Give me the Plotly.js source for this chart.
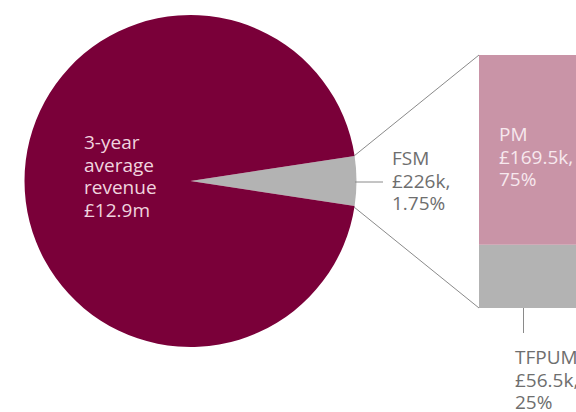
<!DOCTYPE html>
<html>
<head>
<meta charset="utf-8">
<script src="https://cdn.plot.ly/plotly-3.0.1.min.js"></script>
<style>html,body{margin:0;padding:0;background:#fff}#chart{width:576px;height:412px}</style>
</head>
<body>
<div id="chart"></div>
<script>
// Pie: visible shares as drawn
var pieLabels = ["FSM", "Other revenue"];
var pieValues = [4.8, 95.2];
// Breakdown bar of FSM (£k)
var barCategory = ["FSM"];
var pmValues = [169.5];
var tfpumValues = [56.5];
// Label texts
var pieText = ["3-year", "average", "revenue", "£12.9m"];
var fsmText = ["FSM", "£226k,", "1.75%"];
var pmText = ["PM", "£169.5k,", "75%"];
var tfText = ["TFPUM", "£56.5k,", "25%"];

var W = 576, H = 412;
function px(x){return x / W;}
function py(y){return 1 - y / H;}

var greyAngle = pieValues[0] / (pieValues[0] + pieValues[1]) * 360;

var pie = {
  type: "pie",
  labels: pieLabels,
  values: pieValues,
  sort: false,
  direction: "clockwise",
  rotation: 90 - greyAngle / 2,
  marker: {colors: ["#b3b3b3", "#7a0039"], line: {width: 0}},
  textinfo: "none",
  hoverinfo: "none",
  showlegend: false,
  domain: {x: [px(24.5), px(356.5)], y: [py(348), py(14)]}
};

var barPM = {
  type: "bar", x: barCategory, y: pmValues, base: tfpumValues,
  marker: {color: "#c994a7", line: {width: 0}}, width: 1,
  hoverinfo: "none", showlegend: false, xaxis: "x", yaxis: "y"
};
var barTF = {
  type: "bar", x: barCategory, y: tfpumValues,
  marker: {color: "#b3b3b3", line: {width: 0}}, width: 1,
  hoverinfo: "none", showlegend: false, xaxis: "x", yaxis: "y"
};

var font = "'Open Sans', sans-serif";
var grey = "#6e6e6e";
var lineC = "#8a8a8a";

function block(x, yMid, lines, color) {
  var txt = lines.map(function(t){ return '<span style="font-size:19px">' + t + '</span>'; }).join("<br>");
  return {xref: "paper", yref: "paper", x: px(x), y: py(yMid), xanchor: "left", yanchor: "middle",
    text: txt, showarrow: false, align: "left", xshift: -2,
    font: {family: font, size: 17.4, color: color}};
}

var layout = {
  width: W, height: H,
  margin: {l: 0, r: 0, t: 0, b: 0},
  paper_bgcolor: "#fff", plot_bgcolor: "rgba(0,0,0,0)",
  barmode: "overlay",
  xaxis: {domain: [px(479), 1], range: [-0.5, 0.3], visible: false, fixedrange: true},
  yaxis: {domain: [py(308), py(55)], range: [0, pmValues[0] + tfpumValues[0]], visible: false, fixedrange: true},
  shapes: [
    {type: "line", xref: "paper", yref: "paper", x0: px(354), y0: py(156), x1: px(479), y1: py(55), line: {color: lineC, width: 1}},
    {type: "line", xref: "paper", yref: "paper", x0: px(354), y0: py(207), x1: px(479), y1: py(308), line: {color: lineC, width: 1}},
    {type: "line", xref: "paper", yref: "paper", x0: px(355), y0: py(182), x1: px(383), y1: py(182), line: {color: lineC, width: 1}},
    {type: "line", xref: "paper", yref: "paper", x0: px(523.5), y0: py(308), x1: px(523.5), y1: py(333), line: {color: lineC, width: 1}}
  ],
  annotations: [
    block(84, 176, pieText, "#f0d4df"),
    block(392, 180.5, fsmText, grey),
    block(499, 157, pmText, "#f7e8ee"),
    block(515, 379, tfText, grey)
  ]
};

Plotly.newPlot("chart", [pie, barTF, barPM], layout, {displayModeBar: false, staticPlot: true});
</script>
</body>
</html>
